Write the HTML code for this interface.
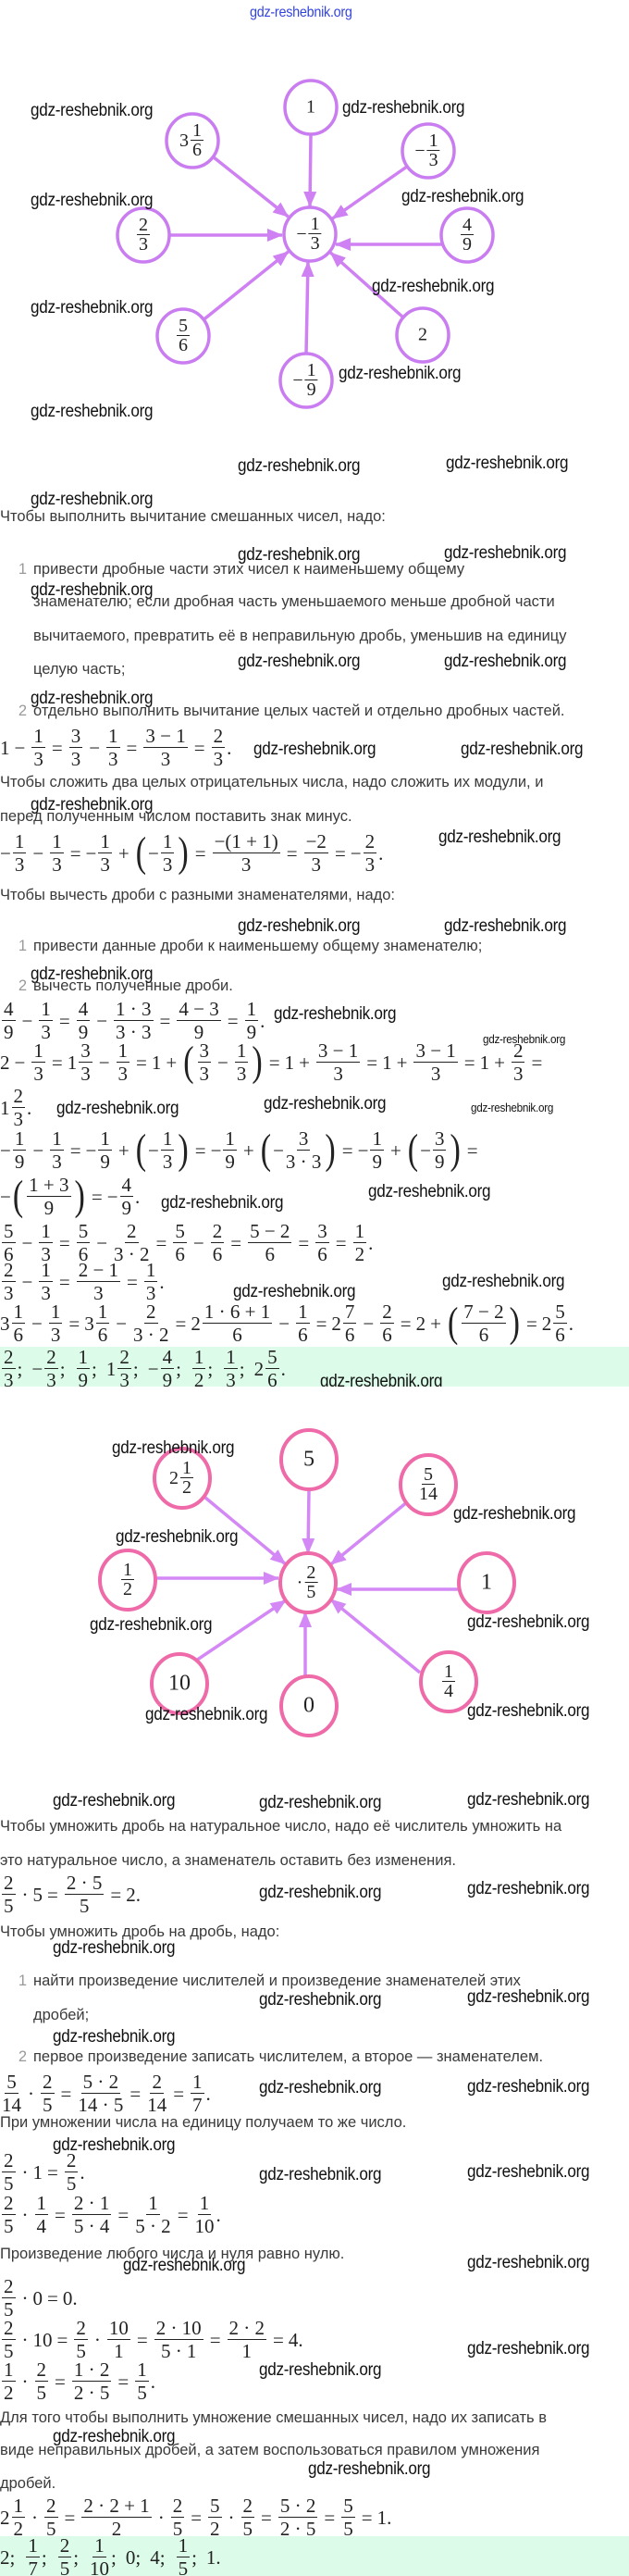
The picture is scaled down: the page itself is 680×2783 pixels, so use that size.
<!DOCTYPE html>
<html><head><meta charset="utf-8">
<style>
html,body{margin:0;padding:0;background:#fff}
body{width:680px;height:2783px;position:relative;overflow:hidden}
.t{position:absolute;left:0;font-family:"Liberation Sans",sans-serif;font-size:16.5px;line-height:20px;color:#3a3a3a;white-space:nowrap}
.n{color:#9a9a9a;display:inline-block;width:36px;text-align:right;padding-right:7px;box-sizing:border-box}
.w{position:absolute;font-family:"Liberation Sans",sans-serif;font-size:19px;line-height:19px;color:#111;white-space:nowrap;transform:scaleX(.9);transform-origin:left top;letter-spacing:-.3px}
.ws{font-size:13px;line-height:13px}
.m{position:absolute;left:0;font-family:"Liberation Serif",serif;font-size:21px;color:#222;display:flex;align-items:center;white-space:nowrap;transform:translateY(-50%)}
.f{display:inline-flex;flex-direction:column;align-items:center;margin:0 2px;line-height:25px}
.f>span:first-child{border-bottom:1.3px solid #222;padding:0 2px;line-height:24px}
.o{margin:0 5px}
.p{display:inline-block;font-size:34px;transform:scaleY(1.35);margin:0 2px;font-weight:100}
.band{position:absolute;left:0;width:680px;background:#dcfbe8;overflow:hidden}
.nd{position:absolute;font-family:"Liberation Serif",serif;font-size:20px;color:#222;display:flex;align-items:center;justify-content:center;transform:translate(-50%,-50%)}
.nd .f{line-height:21px}
.nd .f>span:first-child{line-height:20px}
</style></head><body>

<div class="w" style="left:270px;top:4px;color:#3344dd;font-size:16px">gdz-reshebnik.org</div>

<svg width="680" height="2783" style="position:absolute;left:0;top:0">
<defs>
<marker id="a1" markerUnits="userSpaceOnUse" markerWidth="18" markerHeight="14" refX="16" refY="7" orient="auto"><path d="M0,0 L17,7 L0,14 Z" fill="#cf80f2"/></marker>
<marker id="a2" markerUnits="userSpaceOnUse" markerWidth="18" markerHeight="14" refX="16" refY="7" orient="auto"><path d="M0,0 L17,7 L0,14 Z" fill="#d488f5"/></marker>
</defs>
<g stroke="#cf80f2" stroke-width="3.5" marker-end="url(#a1)">
<line x1="336" y1="145" x2="335" y2="223"/>
<line x1="226" y1="166" x2="311.5" y2="234"/>
<line x1="450" y1="173" x2="359.5" y2="236"/>
<line x1="183" y1="254" x2="305" y2="254"/>
<line x1="478" y1="264" x2="363" y2="264"/>
<line x1="218" y1="347" x2="311.6" y2="272"/>
<line x1="331" y1="382" x2="333" y2="283"/>
<line x1="436" y1="343" x2="357.4" y2="273"/>
</g>
<g fill="#fff" stroke="#c97df0" stroke-width="3.5">
<ellipse cx="335" cy="253" rx="28" ry="29"/>
<ellipse cx="336" cy="116" rx="28" ry="29"/>
<ellipse cx="208" cy="152" rx="28" ry="29"/>
<ellipse cx="463" cy="163" rx="28" ry="29"/>
<ellipse cx="155" cy="254" rx="28" ry="29"/>
<ellipse cx="505" cy="254" rx="28" ry="29"/>
<ellipse cx="198" cy="363" rx="28" ry="29"/>
<ellipse cx="331" cy="411" rx="28" ry="29"/>
<ellipse cx="457" cy="362" rx="28" ry="29"/>
</g>
<g stroke="#d488f5" stroke-width="3.5" marker-end="url(#a2)">
<line x1="334" y1="1610" x2="333" y2="1678"/>
<line x1="222" y1="1618" x2="308.4" y2="1689.6"/>
<line x1="446" y1="1618" x2="357.8" y2="1690"/>
<line x1="169" y1="1705" x2="301" y2="1705"/>
<line x1="495" y1="1717" x2="364" y2="1717"/>
<line x1="203" y1="1800" x2="308.8" y2="1729"/>
<line x1="330" y1="1812" x2="330" y2="1742"/>
<line x1="454" y1="1807" x2="357.6" y2="1728"/>
</g>
<g fill="#fff" stroke="#ee6aa8" stroke-width="4">
<ellipse cx="333" cy="1710" rx="30" ry="32"/>
<ellipse cx="334" cy="1577" rx="30" ry="32"/>
<ellipse cx="197" cy="1597" rx="30" ry="32"/>
<ellipse cx="463" cy="1604" rx="30" ry="32"/>
<ellipse cx="138" cy="1707" rx="30" ry="32"/>
<ellipse cx="526" cy="1710" rx="30" ry="32"/>
<ellipse cx="194" cy="1819" rx="30" ry="32"/>
<ellipse cx="334" cy="1843" rx="30" ry="32"/>
<ellipse cx="485" cy="1817" rx="30" ry="32"/>
</g>
</svg>

<!-- diagram 1 labels -->
<div class="nd" style="left:335px;top:253px">−<span class="f"><span>1</span><span>3</span></span></div>
<div class="nd" style="left:336px;top:116px">1</div>
<div class="nd" style="left:208px;top:152px">3<span class="f"><span>1</span><span>6</span></span></div>
<div class="nd" style="left:463px;top:163px">−<span class="f"><span>1</span><span>3</span></span></div>
<div class="nd" style="left:155px;top:254px"><span class="f"><span>2</span><span>3</span></span></div>
<div class="nd" style="left:505px;top:254px"><span class="f"><span>4</span><span>9</span></span></div>
<div class="nd" style="left:198px;top:363px"><span class="f"><span>5</span><span>6</span></span></div>
<div class="nd" style="left:331px;top:411px">−<span class="f"><span>1</span><span>9</span></span></div>
<div class="nd" style="left:457px;top:362px">2</div>

<!-- diagram 2 labels -->
<div class="nd" style="left:333px;top:1710px">·<span class="f"><span>2</span><span>5</span></span></div>
<div class="nd" style="left:334px;top:1577px;font-size:24px">5</div>
<div class="nd" style="left:197px;top:1597px">2<span class="f"><span>1</span><span>2</span></span></div>
<div class="nd" style="left:463px;top:1604px"><span class="f"><span>5</span><span>14</span></span></div>
<div class="nd" style="left:138px;top:1707px"><span class="f"><span>1</span><span>2</span></span></div>
<div class="nd" style="left:526px;top:1710px;font-size:24px">1</div>
<div class="nd" style="left:194px;top:1819px;font-size:24px">10</div>
<div class="nd" style="left:334px;top:1843px;font-size:24px">0</div>
<div class="nd" style="left:485px;top:1817px"><span class="f"><span>1</span><span>4</span></span></div>

<!-- watermarks diagram 1 -->
<div class="w" style="left:33px;top:110px">gdz-reshebnik.org</div>
<div class="w" style="left:370px;top:107px">gdz-reshebnik.org</div>
<div class="w" style="left:33px;top:207px">gdz-reshebnik.org</div>
<div class="w" style="left:434px;top:203px">gdz-reshebnik.org</div>
<div class="w" style="left:402px;top:300px">gdz-reshebnik.org</div>
<div class="w" style="left:33px;top:323px">gdz-reshebnik.org</div>
<div class="w" style="left:366px;top:394px">gdz-reshebnik.org</div>
<div class="w" style="left:33px;top:435px">gdz-reshebnik.org</div>
<div class="w" style="left:257px;top:494px">gdz-reshebnik.org</div>
<div class="w" style="left:482px;top:491px">gdz-reshebnik.org</div>
<div class="w" style="left:33px;top:530px">gdz-reshebnik.org</div>

<!-- section 1 text -->
<div class="t" style="top:548px">Чтобы выполнить вычитание смешанных чисел, надо:</div>
<div class="w" style="left:257px;top:590px">gdz-reshebnik.org</div>
<div class="w" style="left:480px;top:588px">gdz-reshebnik.org</div>
<div class="t" style="top:605px;left:0"><span class="n">1</span>привести дробные части этих чисел к наименьшему общему</div>
<div class="w" style="left:33px;top:628px">gdz-reshebnik.org</div>
<div class="t" style="top:640px;left:36px">знаменателю; если дробная часть уменьшаемого меньше дробной части</div>
<div class="t" style="top:677px;left:36px">вычитаемого, превратить её в неправильную дробь, уменьшив на единицу</div>
<div class="w" style="left:257px;top:705px">gdz-reshebnik.org</div>
<div class="w" style="left:480px;top:705px">gdz-reshebnik.org</div>
<div class="t" style="top:713px;left:36px">целую часть;</div>
<div class="w" style="left:33px;top:745px">gdz-reshebnik.org</div>
<div class="t" style="top:758px"><span class="n">2</span>отдельно выполнить вычитание целых частей и отдельно дробных частей.</div>

<div class="m" style="top:808px">1<span class="o">−</span><span class="f"><span>1</span><span>3</span></span><span class="o">=</span><span class="f"><span>3</span><span>3</span></span><span class="o">−</span><span class="f"><span>1</span><span>3</span></span><span class="o">=</span><span class="f"><span>3 − 1</span><span>3</span></span><span class="o">=</span><span class="f"><span>2</span><span>3</span></span>.</div>
<div class="w" style="left:274px;top:800px">gdz-reshebnik.org</div>
<div class="w" style="left:498px;top:800px">gdz-reshebnik.org</div>

<div class="t" style="top:835px">Чтобы сложить два целых отрицательных числа, надо сложить их модули, и</div>
<div class="w" style="left:33px;top:860px">gdz-reshebnik.org</div>
<div class="t" style="top:872px">перед полученным числом поставить знак минус.</div>

<div class="m" style="top:922px">−<span class="f"><span>1</span><span>3</span></span><span class="o">−</span><span class="f"><span>1</span><span>3</span></span><span class="o">=</span>−<span class="f"><span>1</span><span>3</span></span><span class="o">+</span><span class="p">(</span>−<span class="f"><span>1</span><span>3</span></span><span class="p">)</span><span class="o">=</span><span class="f"><span>−(1 + 1)</span><span>3</span></span><span class="o">=</span><span class="f"><span>−2</span><span>3</span></span><span class="o">=</span>−<span class="f"><span>2</span><span>3</span></span>.</div>
<div class="w" style="left:474px;top:895px">gdz-reshebnik.org</div>

<div class="t" style="top:957px">Чтобы вычесть дроби с разными знаменателями, надо:</div>
<div class="w" style="left:257px;top:991px">gdz-reshebnik.org</div>
<div class="w" style="left:480px;top:991px">gdz-reshebnik.org</div>
<div class="t" style="top:1012px"><span class="n">1</span>привести данные дроби к наименьшему общему знаменателю;</div>
<div class="w" style="left:33px;top:1043px">gdz-reshebnik.org</div>
<div class="t" style="top:1055px"><span class="n">2</span>вычесть полученные дроби.</div>

<div class="m" style="top:1103px"><span class="f"><span>4</span><span>9</span></span><span class="o">−</span><span class="f"><span>1</span><span>3</span></span><span class="o">=</span><span class="f"><span>4</span><span>9</span></span><span class="o">−</span><span class="f"><span>1 · 3</span><span>3 · 3</span></span><span class="o">=</span><span class="f"><span>4 − 3</span><span>9</span></span><span class="o">=</span><span class="f"><span>1</span><span>9</span></span>.</div>
<div class="w" style="left:296px;top:1086px">gdz-reshebnik.org</div>

<div class="m" style="top:1148px">2<span class="o">−</span><span class="f"><span>1</span><span>3</span></span><span class="o">=</span>1<span class="f"><span>3</span><span>3</span></span><span class="o">−</span><span class="f"><span>1</span><span>3</span></span><span class="o">=</span>1<span class="o">+</span><span class="p">(</span><span class="f"><span>3</span><span>3</span></span><span class="o">−</span><span class="f"><span>1</span><span>3</span></span><span class="p">)</span><span class="o">=</span>1<span class="o">+</span><span class="f"><span>3 − 1</span><span>3</span></span><span class="o">=</span>1<span class="o">+</span><span class="f"><span>3 − 1</span><span>3</span></span><span class="o">=</span>1<span class="o">+</span><span class="f"><span>2</span><span>3</span></span><span class="o">=</span></div>
<div class="w ws" style="left:522px;top:1116px">gdz-reshebnik.org</div>

<div class="m" style="top:1197px">1<span class="f"><span>2</span><span>3</span></span>.</div>
<div class="w" style="left:61px;top:1188px">gdz-reshebnik.org</div>
<div class="w" style="left:285px;top:1183px">gdz-reshebnik.org</div>
<div class="w ws" style="left:509px;top:1190px">gdz-reshebnik.org</div>

<div class="m" style="top:1243px">−<span class="f"><span>1</span><span>9</span></span><span class="o">−</span><span class="f"><span>1</span><span>3</span></span><span class="o">=</span>−<span class="f"><span>1</span><span>9</span></span><span class="o">+</span><span class="p">(</span>−<span class="f"><span>1</span><span>3</span></span><span class="p">)</span><span class="o">=</span>−<span class="f"><span>1</span><span>9</span></span><span class="o">+</span><span class="p">(</span>−<span class="f"><span>3</span><span>3 · 3</span></span><span class="p">)</span><span class="o">=</span>−<span class="f"><span>1</span><span>9</span></span><span class="o">+</span><span class="p">(</span>−<span class="f"><span>3</span><span>9</span></span><span class="p">)</span><span class="o">=</span></div>

<div class="m" style="top:1293px">−<span class="p">(</span><span class="f"><span>1 + 3</span><span>9</span></span><span class="p">)</span><span class="o">=</span>−<span class="f"><span>4</span><span>9</span></span>.</div>
<div class="w" style="left:174px;top:1290px">gdz-reshebnik.org</div>
<div class="w" style="left:398px;top:1278px">gdz-reshebnik.org</div>

<div class="m" style="top:1343px"><span class="f"><span>5</span><span>6</span></span><span class="o">−</span><span class="f"><span>1</span><span>3</span></span><span class="o">=</span><span class="f"><span>5</span><span>6</span></span><span class="o">−</span><span class="f"><span>2</span><span>3 · 2</span></span><span class="o">=</span><span class="f"><span>5</span><span>6</span></span><span class="o">−</span><span class="f"><span>2</span><span>6</span></span><span class="o">=</span><span class="f"><span>5 − 2</span><span>6</span></span><span class="o">=</span><span class="f"><span>3</span><span>6</span></span><span class="o">=</span><span class="f"><span>1</span><span>2</span></span>.</div>

<div class="m" style="top:1385px"><span class="f"><span>2</span><span>3</span></span><span class="o">−</span><span class="f"><span>1</span><span>3</span></span><span class="o">=</span><span class="f"><span>2 − 1</span><span>3</span></span><span class="o">=</span><span class="f"><span>1</span><span>3</span></span>.</div>
<div class="w" style="left:478px;top:1375px">gdz-reshebnik.org</div>
<div class="w" style="left:252px;top:1386px">gdz-reshebnik.org</div>

<div class="m" style="top:1430px">3<span class="f"><span>1</span><span>6</span></span><span class="o">−</span><span class="f"><span>1</span><span>3</span></span><span class="o">=</span>3<span class="f"><span>1</span><span>6</span></span><span class="o">−</span><span class="f"><span>2</span><span>3 · 2</span></span><span class="o">=</span>2<span class="f"><span>1 · 6 + 1</span><span>6</span></span><span class="o">−</span><span class="f"><span>1</span><span>6</span></span><span class="o">=</span>2<span class="f"><span>7</span><span>6</span></span><span class="o">−</span><span class="f"><span>2</span><span>6</span></span><span class="o">=</span>2<span class="o">+</span><span class="p">(</span><span class="f"><span>7 − 2</span><span>6</span></span><span class="p">)</span><span class="o">=</span>2<span class="f"><span>5</span><span>6</span></span>.</div>

<div class="band" style="top:1455px;height:43px">
<div class="m" style="top:24px"><span class="f"><span>2</span><span>3</span></span>;<span class="o"></span>−<span class="f"><span>2</span><span>3</span></span>;<span class="o"></span><span class="f"><span>1</span><span>9</span></span>;<span class="o"></span>1<span class="f"><span>2</span><span>3</span></span>;<span class="o"></span>−<span class="f"><span>4</span><span>9</span></span>;<span class="o"></span><span class="f"><span>1</span><span>2</span></span>;<span class="o"></span><span class="f"><span>1</span><span>3</span></span>;<span class="o"></span>2<span class="f"><span>5</span><span>6</span></span>.</div>
<div class="w" style="left:346px;top:28px">gdz-reshebnik.org</div>
</div>

<!-- diagram 2 watermarks -->
<div class="w" style="left:121px;top:1555px">gdz-reshebnik.org</div>
<div class="w" style="left:490px;top:1626px">gdz-reshebnik.org</div>
<div class="w" style="left:125px;top:1651px">gdz-reshebnik.org</div>
<div class="w" style="left:97px;top:1746px">gdz-reshebnik.org</div>
<div class="w" style="left:505px;top:1743px">gdz-reshebnik.org</div>
<div class="w" style="left:157px;top:1843px">gdz-reshebnik.org</div>
<div class="w" style="left:505px;top:1839px">gdz-reshebnik.org</div>

<div class="w" style="left:57px;top:1936px">gdz-reshebnik.org</div>
<div class="w" style="left:280px;top:1938px">gdz-reshebnik.org</div>
<div class="w" style="left:505px;top:1935px">gdz-reshebnik.org</div>
<div class="t" style="top:1963px">Чтобы умножить дробь на натуральное число, надо её числитель умножить на</div>
<div class="t" style="top:2000px">это натуральное число, а знаменатель оставить без изменения.</div>
<div class="m" style="top:2047px"><span class="f"><span>2</span><span>5</span></span><span class="o">·</span>5<span class="o">=</span><span class="f"><span>2 · 5</span><span>5</span></span><span class="o">=</span>2.</div>
<div class="w" style="left:280px;top:2035px">gdz-reshebnik.org</div>
<div class="w" style="left:505px;top:2031px">gdz-reshebnik.org</div>
<div class="t" style="top:2077px">Чтобы умножить дробь на дробь, надо:</div>
<div class="w" style="left:57px;top:2095px">gdz-reshebnik.org</div>
<div class="t" style="top:2130px"><span class="n">1</span>найти произведение числителей и произведение знаменателей этих</div>
<div class="w" style="left:280px;top:2151px">gdz-reshebnik.org</div>
<div class="w" style="left:505px;top:2148px">gdz-reshebnik.org</div>
<div class="t" style="top:2167px;left:36px">дробей;</div>
<div class="w" style="left:57px;top:2191px">gdz-reshebnik.org</div>
<div class="t" style="top:2212px"><span class="n">2</span>первое произведение записать числителем, а второе — знаменателем.</div>
<div class="m" style="top:2262px"><span class="f"><span>5</span><span>14</span></span><span class="o">·</span><span class="f"><span>2</span><span>5</span></span><span class="o">=</span><span class="f"><span>5 · 2</span><span>14 · 5</span></span><span class="o">=</span><span class="f"><span>2</span><span>14</span></span><span class="o">=</span><span class="f"><span>1</span><span>7</span></span>.</div>
<div class="w" style="left:280px;top:2246px">gdz-reshebnik.org</div>
<div class="w" style="left:505px;top:2245px">gdz-reshebnik.org</div>
<div class="t" style="top:2283px">При умножении числа на единицу получаем то же число.</div>
<div class="w" style="left:57px;top:2308px">gdz-reshebnik.org</div>
<div class="m" style="top:2347px"><span class="f"><span>2</span><span>5</span></span><span class="o">·</span>1<span class="o">=</span><span class="f"><span>2</span><span>5</span></span>.</div>
<div class="w" style="left:280px;top:2340px">gdz-reshebnik.org</div>
<div class="w" style="left:505px;top:2337px">gdz-reshebnik.org</div>
<div class="m" style="top:2393px"><span class="f"><span>2</span><span>5</span></span><span class="o">·</span><span class="f"><span>1</span><span>4</span></span><span class="o">=</span><span class="f"><span>2 · 1</span><span>5 · 4</span></span><span class="o">=</span><span class="f"><span>1</span><span>5 · 2</span></span><span class="o">=</span><span class="f"><span>1</span><span>10</span></span>.</div>
<div class="t" style="top:2425px">Произведение любого числа и нуля равно нулю.</div>
<div class="w" style="left:133px;top:2438px">gdz-reshebnik.org</div>
<div class="w" style="left:505px;top:2435px">gdz-reshebnik.org</div>
<div class="m" style="top:2483px"><span class="f"><span>2</span><span>5</span></span><span class="o">·</span>0<span class="o">=</span>0.</div>
<div class="m" style="top:2528px"><span class="f"><span>2</span><span>5</span></span><span class="o">·</span>10<span class="o">=</span><span class="f"><span>2</span><span>5</span></span><span class="o">·</span><span class="f"><span>10</span><span>1</span></span><span class="o">=</span><span class="f"><span>2 · 10</span><span>5 · 1</span></span><span class="o">=</span><span class="f"><span>2 · 2</span><span>1</span></span><span class="o">=</span>4.</div>
<div class="w" style="left:505px;top:2528px">gdz-reshebnik.org</div>
<div class="m" style="top:2573px"><span class="f"><span>1</span><span>2</span></span><span class="o">·</span><span class="f"><span>2</span><span>5</span></span><span class="o">=</span><span class="f"><span>1 · 2</span><span>2 · 5</span></span><span class="o">=</span><span class="f"><span>1</span><span>5</span></span>.</div>
<div class="w" style="left:280px;top:2551px">gdz-reshebnik.org</div>
<div class="t" style="top:2602px">Для того чтобы выполнить умножение смешанных чисел, надо их записать в</div>
<div class="w" style="left:57px;top:2623px">gdz-reshebnik.org</div>
<div class="t" style="top:2637px">виде неправильных дробей, а затем воспользоваться правилом умножения</div>
<div class="w" style="left:333px;top:2658px">gdz-reshebnik.org</div>
<div class="t" style="top:2673px">дробей.</div>
<div class="m" style="top:2720px">2<span class="f"><span>1</span><span>2</span></span><span class="o">·</span><span class="f"><span>2</span><span>5</span></span><span class="o">=</span><span class="f"><span>2 · 2 + 1</span><span>2</span></span><span class="o">·</span><span class="f"><span>2</span><span>5</span></span><span class="o">=</span><span class="f"><span>5</span><span>2</span></span><span class="o">·</span><span class="f"><span>2</span><span>5</span></span><span class="o">=</span><span class="f"><span>5 · 2</span><span>2 · 5</span></span><span class="o">=</span><span class="f"><span>5</span><span>5</span></span><span class="o">=</span>1.</div>

<div class="band" style="top:2740px;height:43px">
<div class="m" style="top:23px">2;<span class="o"></span><span class="f"><span>1</span><span>7</span></span>;<span class="o"></span><span class="f"><span>2</span><span>5</span></span>;<span class="o"></span><span class="f"><span>1</span><span>10</span></span>;<span class="o"></span>0;<span class="o"></span>4;<span class="o"></span><span class="f"><span>1</span><span>5</span></span>;<span class="o"></span>1.</div>
</div>

</body></html>
